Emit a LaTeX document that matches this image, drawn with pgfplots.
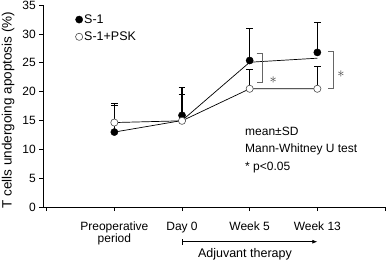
\documentclass[border=0pt]{standalone}
\usepackage{fontspec}
\setmainfont{Liberation Sans}
\usepackage{pgfplots}
\pgfplotsset{compat=1.18}
\usetikzlibrary{arrows.meta}
\newcommand\fs[1]{\fontsize{#1}{#1}\selectfont}
\begin{document}
\begin{tikzpicture}
\path[use as bounding box] (-43.3pt,-53.9pt) rectangle (343.7pt,207.1pt);
\begin{axis}[
  at={(0pt,0pt)}, anchor=south west,
  scale only axis, width=341.7pt, height=202pt,
  xmin=-0.05, xmax=5, ymin=0, ymax=35,
  axis lines=left, axis line style={-, line width=0.9pt},
  tick align=outside, major tick length=4pt,
  tick style={black, line width=0.9pt},
  xtick={0,1,2,3,4,5},
  xticklabels={,Preoperative\\period,Day 0,Week 5,Week 13,},
  xticklabel style={align=center, font=\fontsize{12}{12.5}\selectfont, yshift=-7pt},
  ytick={0,5,...,35},
  yticklabel style={font=\fs{12}},
  /pgf/number format/assume math mode=true,
  clip=false,
  ylabel={T cells undergoing apoptosis (\%)},
  ylabel style={at={(axis description cs:-0.103,0.48)}, anchor=center, font=\fs{13.5}},
  legend style={draw=none, fill=none, at={(axis description cs:0.085,0.972)}, anchor=north west,
    legend cell align=left, row sep=4pt, font=\fs{12.5},
    nodes={inner sep=1.5pt}},
  legend image code/.code={\draw[mark repeat=2,mark phase=2] plot coordinates {(0cm,0cm)(0.12cm,0cm)(0.24cm,0cm)};},
]
% connecting lines
\addplot[black, line width=0.7pt, forget plot] coordinates {(1,13.0) (2,15.0) (3,25.1) (4,25.8)};
\addplot[black, line width=0.7pt, forget plot] coordinates {(1,14.65) (2,14.95) (3,20.5) (4,20.5)};
% S-1
\addplot[only marks, mark=*, mark size=3.6pt, black,
  error bars/.cd, y dir=plus, y explicit,
  error bar style={line width=1.2pt, black},
  error mark options={rotate=90, mark size=3.3pt, line width=1.2pt, black}]
  table[x=x, y=y, y error=e] {
x y e
1 13.0 4.6
2 15.9 4.8
3 25.4 5.5
4 26.8 5.2
};
\addlegendentry{S-1}
% S-1+PSK
\addplot[only marks, mark=*, mark size=3.6pt, draw=black!70, fill=white, mark options={fill=white, draw=black!70, line width=0.6pt},
  error bars/.cd, y dir=plus, y explicit,
  error bar style={line width=1.2pt, black},
  error mark options={rotate=90, mark size=3.3pt, line width=1.2pt, black}]
  table[x=x, y=y, y error=e] {
x y e
1 14.65 3.25
2 14.95 4.55
3 20.5 3.3
4 20.5 3.9
};
\addlegendentry{S-1+PSK}
% significance brackets
\draw[black!60, line width=0.7pt] (axis cs:3.104,26.65) -- (axis cs:3.187,26.65) -- (axis cs:3.187,21.63) -- (axis cs:3.104,21.63);
\draw[black!60, line width=0.7pt] (axis cs:4.16,26.93) -- (axis cs:4.236,26.93) -- (axis cs:4.236,20.59) -- (axis cs:4.16,20.59);
\node[font=\fs{15}, text=black!75] at (axis cs:3.349,22.02) {$\ast$};
\node[font=\fs{15}, text=black!75] at (axis cs:4.35,23.06) {$\ast$};
% annotations
\node[anchor=west, inner sep=0pt, font=\fs{12}] at (axis cs:2.931,13.13) {mean±SD};
\node[anchor=west, inner sep=0pt, font=\fs{12}] at (axis cs:2.931,9.95) {Mann-Whitney U test};
\node[anchor=west, inner sep=0pt, font=\fs{12}] at (axis cs:2.931,6.9) {* p<0.05};
% adjuvant therapy arrow
\draw[line width=0.8pt, {Bar[width=6pt]}-{Latex[length=5pt,width=4pt]}] (axis cs:2,-6.0) -- (axis cs:4,-6.0);
\node[font=\fs{12.5}] at (axis cs:2.93,-8.1) {Adjuvant therapy};
\end{axis}
\end{tikzpicture}
\end{document}
